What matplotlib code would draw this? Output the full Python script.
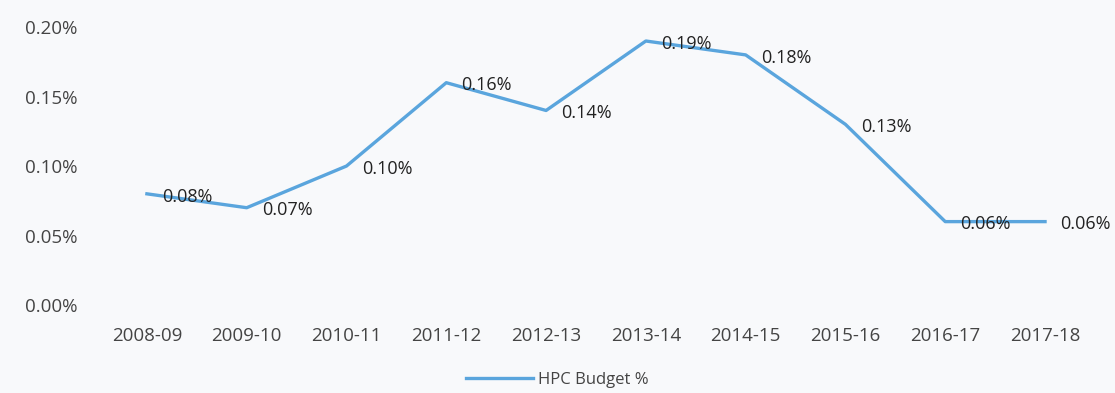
import matplotlib.pyplot as plt
from matplotlib.ticker import FuncFormatter

years = ["2008-09", "2009-10", "2010-11", "2011-12", "2012-13",
         "2013-14", "2014-15", "2015-16", "2016-17", "2017-18"]
budget_pct = [0.08, 0.07, 0.10, 0.16, 0.14, 0.19, 0.18, 0.13, 0.06, 0.06]

plt.rcParams['font.family'] = ['Open Sans', 'DejaVu Sans']

bg = '#f8f9fb'
fig = plt.figure(figsize=(11.15, 3.93), dpi=100, facecolor=bg)
ax = fig.add_axes([0.087, 0.224, 0.895, 0.707], facecolor=bg)

x = list(range(len(years)))
line, = ax.plot(x, budget_pct, color='#5aa5dd', linewidth=2.4, label='HPC Budget %')

for xi, v in zip(x, budget_pct):
    ax.annotate(f"{v:.2f}%", (xi, v), xytext=(11, -2), textcoords='offset points',
                ha='left', va='center', fontsize=13, color='#222222')

ax.set_xlim(-0.5, len(years) - 0.5)
ax.set_ylim(0, 0.20)
ax.set_yticks([0, 0.05, 0.10, 0.15, 0.20])
ax.yaxis.set_major_formatter(FuncFormatter(lambda v, p: f"{v:.2f}%"))
ax.set_xticks(x)
ax.set_xticklabels(years)
ax.tick_params(axis='both', length=0, labelsize=13.5, labelcolor='#444444')
ax.tick_params(axis='x', pad=16)
ax.tick_params(axis='y', pad=14)
for s in ax.spines.values():
    s.set_visible(False)

fig.legend(handles=[line], loc='lower center', bbox_to_anchor=(0.5, -0.025),
           frameon=False, fontsize=12, labelcolor='#444444', handlelength=4,
           handletextpad=0.3)

fig.savefig('out.png', dpi=100, facecolor=bg)
